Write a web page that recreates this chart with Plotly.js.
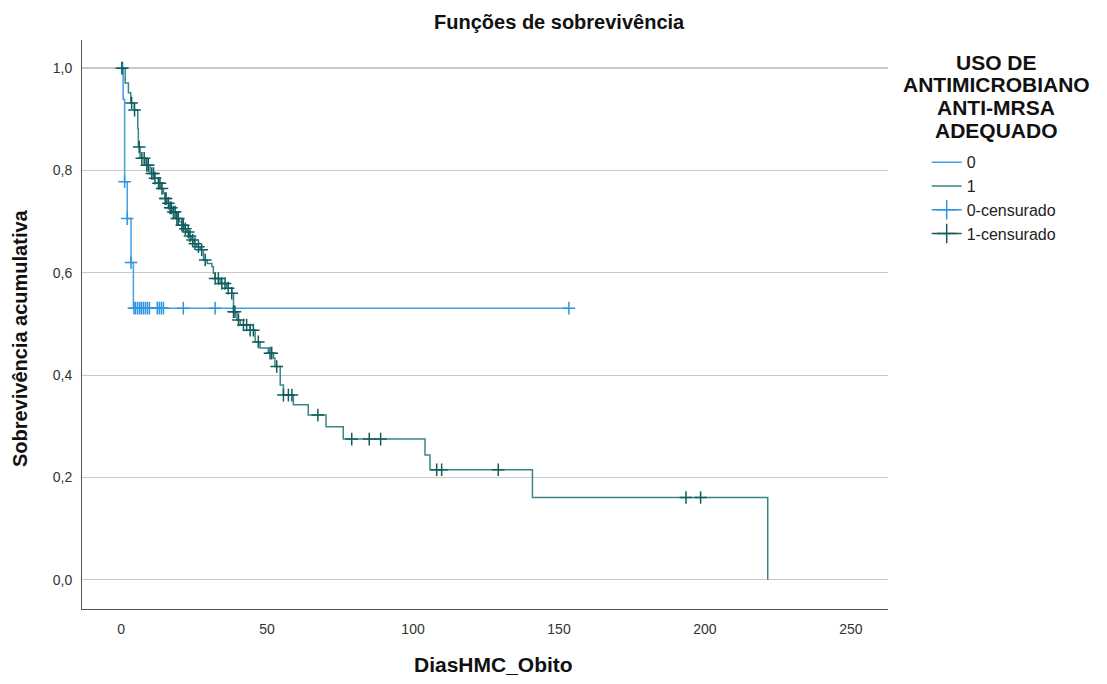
<!DOCTYPE html>
<html>
<head>
<meta charset="utf-8">
<script src="https://cdn.plot.ly/plotly-3.0.1.min.js"></script>
<style>html,body{margin:0;padding:0;background:#fff;}#chart{width:1107px;height:684px;}</style>
</head>
<body>
<div id="chart"></div>
<script>
// Group 0: event times and survival after each step
var times0 = [0, 0.7, 1.2, 2.1, 3.4, 4.2, 153.4];
var surv0  = [1, 0.939, 0.778, 0.706, 0.620, 0.531, 0.531];
var censor0 = [0.5, 1.2, 2.1, 3.4, 4.4, 4.9, 5.6, 6.3, 6.9, 7.6, 8.3, 9.0, 9.7, 12.4, 13.1, 13.8, 14.5, 21.3, 32.2, 153.4];

// Group 1
var times1 = [0, 1.4, 2.5, 3.3, 4.5, 5.7, 5.9, 6.5, 8.2, 9.9, 11.3, 12.8, 13.7, 14.5, 15.1, 15.7, 16.4, 17.4, 19.1, 19.9, 20.8, 21.6, 22.5, 23.3, 24.2, 25.0, 25.9, 27.1, 28.2, 29.5, 31.1, 31.6, 32.2, 33.9, 36.2, 37.9, 38.5, 39.7, 40.8, 44.2, 45.9, 47.6, 50.4, 52.2, 52.7, 54.5, 55.6, 59.0, 64.1, 70.2, 76.1, 104.1, 105.8, 140.9, 221.5];
var surv1  = [1, 0.971, 0.952, 0.932, 0.918, 0.882, 0.846, 0.824, 0.810, 0.794, 0.785, 0.775, 0.765, 0.755, 0.745, 0.736, 0.727, 0.719, 0.706, 0.700, 0.693, 0.686, 0.680, 0.672, 0.664, 0.657, 0.651, 0.645, 0.625, 0.618, 0.612, 0.599, 0.589, 0.579, 0.570, 0.560, 0.524, 0.508, 0.498, 0.488, 0.465, 0.453, 0.443, 0.433, 0.417, 0.381, 0.361, 0.342, 0.322, 0.299, 0.275, 0.244, 0.215, 0.161, 0];
var censor1 = [0.25, 3.6, 4.6, 6.2, 7.1, 7.9, 8.8, 9.3, 10.5, 11.1, 11.6, 12.8, 13.3, 14.0, 15.1, 15.4, 16.2, 16.8, 17.2, 17.9, 18.5, 19.1, 19.6, 20.8, 21.3, 22.0, 23.0, 23.6, 24.5, 25.3, 26.5, 27.6, 28.8, 32.2, 33.3, 34.5, 35.6, 36.7, 37.9, 38.5, 39.0, 40.2, 41.9, 43.0, 44.2, 45.3, 47.0, 51.0, 51.6, 53.3, 55.6, 57.3, 58.5, 67.4, 79.0, 85.0, 88.9, 108.1, 109.8, 129.2, 193.5, 198.5];

var yTicks = [0, 0.2, 0.4, 0.6, 0.8, 1.0];
var xTicks = [0, 50, 100, 150, 200, 250];
var legendTitleLines = ['USO DE', 'ANTIMICROBIANO', 'ANTI-MRSA', 'ADEQUADO'];

function stepAt(times, surv, t) {
  var v = surv[0];
  for (var i = 0; i < times.length; i++) { if (times[i] <= t + 1e-9) v = surv[i]; }
  return v;
}

var blueLine = '#3ea0e6', blueMark = '#2e95e0';
var greenLine = '#3a8686', greenMark = '#115c5c';

var traces = [
  {x: times0, y: surv0, mode: 'lines', line: {shape: 'hv', color: blueLine, width: 1.5}, name: '0', showlegend: true},
  {x: times1, y: surv1, mode: 'lines', line: {shape: 'hv', color: greenLine, width: 1.5}, name: '1', showlegend: true},
  {x: censor0, y: censor0.map(function(t){return stepAt(times0, surv0, t);}), mode: 'markers',
   marker: {symbol: 'cross-thin', size: 9, line: {width: 1.5, color: blueMark}, color: blueMark}, showlegend: false},
  {x: censor1, y: censor1.map(function(t){return stepAt(times1, surv1, t);}), mode: 'markers',
   marker: {symbol: 'cross-thin', size: 9, line: {width: 1.5, color: greenMark}, color: greenMark}, showlegend: false},
  {x: [null], y: [null], mode: 'lines+markers', name: '0-censurado', line: {color: blueMark, width: 1.5},
   marker: {symbol: 'cross-thin', size: 14, line: {width: 1.5, color: blueMark}}},
  {x: [null], y: [null], mode: 'lines+markers', name: '1-censurado', line: {color: greenMark, width: 1.5},
   marker: {symbol: 'cross-thin', size: 14, line: {width: 1.5, color: greenMark}}}
];

var titleYs = [0.961, 0.921, 0.881, 0.841];
var annotations = legendTitleLines.map(function(s, i){
  return {text: '<b>' + s + '</b>', xref: 'paper', yref: 'paper', x: 1.134, y: titleYs[i], xanchor: 'center', yanchor: 'middle',
          showarrow: false, font: {size: 21, color: '#111'}};
});
annotations.push({text: '<b>Sobrevivência acumulativa</b>', xref: 'paper', yref: 'paper', x: -0.077, y: 0.476,
                  xanchor: 'center', yanchor: 'middle', textangle: -90, showarrow: false, font: {size: 20, color: '#111'}});
annotations.push({text: '<b>DiasHMC_Obito</b>', xref: 'paper', yref: 'paper', x: 0.511, y: -0.098,
                  xanchor: 'center', yanchor: 'middle', showarrow: false, font: {size: 21, color: '#111'}});

var layout = {
  width: 1107, height: 684,
  margin: {l: 82, r: 219, t: 40, b: 75},
  paper_bgcolor: '#fff', plot_bgcolor: '#fff',
  font: {family: '"Liberation Sans", Arial, sans-serif', color: '#222', size: 14},
  separators: ', ',
  title: {text: '<b>Funções de sobrevivência</b>', x: 0.592, xref: 'paper', xanchor: 'center', y: 0.968, yanchor: 'middle',
          font: {size: 20, color: '#111'}},
  xaxis: {range: [-13.4, 262.7], tickvals: xTicks, ticktext: xTicks.map(String), showgrid: false, zeroline: false,
          showline: true, linecolor: '#555', linewidth: 1, ticks: '', ticklabelstandoff: 7, tickfont: {size: 14, color: '#333'}},
  yaxis: {range: [-0.057, 1.055], tickvals: yTicks, tickformat: '.1f', showgrid: true, gridcolor: '#c8c8c8', gridwidth: 1.3,
          zeroline: false, showline: true, linecolor: '#555', linewidth: 1, ticks: '', ticklabelstandoff: 6,
          tickfont: {size: 14, color: '#333'}},
  legend: {x: 1.048, xanchor: 'left', y: 0.815, yanchor: 'top', bgcolor: 'rgba(0,0,0,0)',
           font: {size: 16, color: '#222'}, itemwidth: 30, tracegroupgap: 0},
  annotations: annotations,
  showlegend: true
};

Plotly.newPlot('chart', traces, layout, {displayModeBar: false, staticPlot: true});
</script>
</body>
</html>
